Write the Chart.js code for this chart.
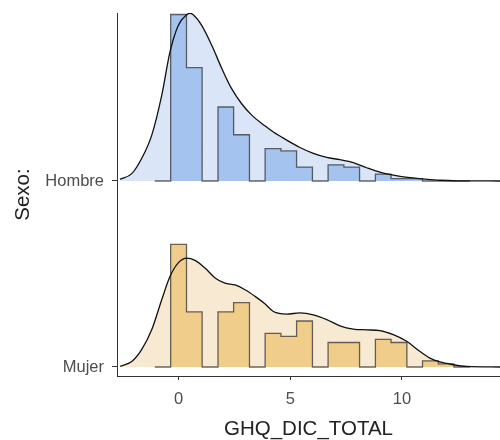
<!DOCTYPE html>
<html lang="es">
<head>
<meta charset="UTF-8">
<title>GHQ_DIC_TOTAL por sexo</title>
<script src="https://cdn.jsdelivr.net/npm/chart.js"></script>
<style>
    body { margin: 0; background: #fff; }
    #wrap { width: 500px; height: 440px; }
</style>
</head>
<body>
<div id="wrap"><canvas id="ridges" width="500" height="440"></canvas></div>
<script>
// categories (ridge baselines: 0 = Mujer, 1 = Hombre)
const sexo = ['Mujer', 'Hombre'];
const xTicks = [0, 5, 10];

// histogram bins (edges) and counts per sex
const binEdges = [-0.36, 0.35, 1.05, 1.76, 2.46, 3.17, 3.87, 4.58, 5.28, 5.99, 6.69, 7.40, 8.10, 8.81, 9.51, 10.22, 10.92, 11.63, 12.33, 13.04];
const countsHombre = [72, 49, 0, 32, 20, 0, 14, 13, 6, 0, 7, 6, 0, 3, 1, 1, 0, 0, 0];
const countsMujer  = [40, 18, 0, 18, 21, 0, 11, 10, 15, 0, 8, 8, 0, 9, 8, 0, 2, 1, 0];

// density curves
const densXHombre = [-2.63, -2.10, -1.66, -1.21, -0.76, -0.39, -0.02, 0.36, 0.50, 0.65, 1.03, 1.48, 1.93, 2.37, 2.82, 3.27, 3.86, 4.24, 4.84, 5.43, 6.03, 6.63, 7.22, 7.82, 8.42, 9.01, 9.61, 10.36, 10.81, 11.70, 12.50, 14.39];
const densYHombre = [0.005, 0.020, 0.061, 0.124, 0.233, 0.351, 0.423, 0.452, 0.456, 0.452, 0.423, 0.369, 0.306, 0.251, 0.210, 0.179, 0.150, 0.133, 0.111, 0.091, 0.075, 0.064, 0.058, 0.050, 0.036, 0.024, 0.016, 0.009, 0.0065, 0.002, 0.0005, 0];
const densXMujer = [-2.63, -2.10, -1.66, -1.21, -0.76, -0.39, -0.02, 0.36, 0.73, 1.18, 1.63, 2.07, 2.52, 2.97, 3.42, 3.86, 4.24, 4.84, 5.43, 6.03, 6.63, 7.22, 7.82, 8.42, 9.01, 9.61, 10.21, 10.81, 11.25, 11.70, 12.29, 12.89, 14.39];
const densYMujer = [0.002, 0.015, 0.047, 0.101, 0.183, 0.246, 0.283, 0.296, 0.290, 0.269, 0.242, 0.228, 0.223, 0.210, 0.192, 0.172, 0.151, 0.144, 0.147, 0.142, 0.129, 0.112, 0.103, 0.101, 0.099, 0.088, 0.070, 0.042, 0.024, 0.0136, 0.0063, 0.0016, 0];

const SCALE = 1.977;   // ridge height per unit of density
const FONT = "'Liberation Sans', Arial, sans-serif";

function curvePoints(xs, ys, base) {
    return xs.map((x, i) => ({ x: x, y: base + ys[i] * SCALE }));
}

function histPoints(counts, base) {
    const total = counts.reduce((a, b) => a + b, 0);
    const w = binEdges[1] - binEdges[0];
    const pts = [{ x: binEdges[0] - w, y: base }];
    counts.forEach((c, i) => pts.push({ x: binEdges[i], y: base + c / (total * w) * SCALE }));
    pts.push({ x: binEdges[binEdges.length - 1], y: base });
    return pts;
}

function ridge(xs, ys, counts, base, light, dark) {
    const curve = curvePoints(xs, ys, base);
    return [
        { data: curve, fill: { value: base }, backgroundColor: light, borderWidth: 0,
          cubicInterpolationMode: 'monotone', order: 3 },
        { data: histPoints(counts, base), stepped: true, fill: { value: base }, backgroundColor: dark,
          borderColor: 'rgba(40,40,40,0.7)', borderWidth: 1.3, order: 2 },
        { data: curve, fill: false, borderColor: '#111', borderWidth: 1.3,
          cubicInterpolationMode: 'monotone', order: 1 }
    ];
}

const datasets = [
    ...ridge(densXHombre, densYHombre, countsHombre, 1, '#dae6f7', '#a5c3ef'),
    ...ridge(densXMujer, densYMujer, countsMujer, 0, '#f8ead2', '#f0cd8b')
];

new Chart(document.getElementById('ridges'), {
    type: 'line',
    data: { datasets: datasets },
    options: {
        responsive: false,
        animation: false,
        layout: { padding: { top: 13, right: 0, left: 0, bottom: 0 } },
        elements: { point: { radius: 0 } },
        plugins: { legend: { display: false }, tooltip: { enabled: false } },
        scales: {
            x: {
                type: 'linear', min: -2.763, max: 14.39,
                afterBuildTicks: s => { s.ticks = xTicks.map(v => ({ value: v })); },
                afterFit: s => { s.height = 64; },
                grid: { display: true, drawOnChartArea: false, drawTicks: true, tickLength: 4, color: '#333' },
                border: { display: true, color: '#333', width: 1 },
                ticks: { color: '#4d4d4d', font: { family: FONT, size: 16.5 }, padding: 10, maxRotation: 0 },
                title: { display: true, text: 'GHQ_DIC_TOTAL', color: '#222',
                         font: { family: FONT, size: 20.5, lineHeight: 1 }, padding: { top: 0, bottom: 0 } }
            },
            y: {
                type: 'linear', min: -0.0484, max: 1.903,
                afterBuildTicks: s => { s.ticks = sexo.map((_, i) => ({ value: i })); },
                afterFit: s => { s.width = 117; s.paddingTop = 0; s.paddingBottom = 0; },
                grid: { display: true, drawOnChartArea: false, drawTicks: true, tickLength: 5, color: '#333' },
                border: { display: true, color: '#333', width: 1 },
                ticks: { color: '#4d4d4d', font: { family: FONT, size: 16.5 }, padding: 8,
                         callback: v => sexo[v] },
                title: { display: true, text: 'Sexo:', color: '#222',
                         font: { family: FONT, size: 20.5, lineHeight: 1 }, padding: { top: 13, bottom: 0 } }
            }
        }
    }
});
</script>
</body>
</html>
